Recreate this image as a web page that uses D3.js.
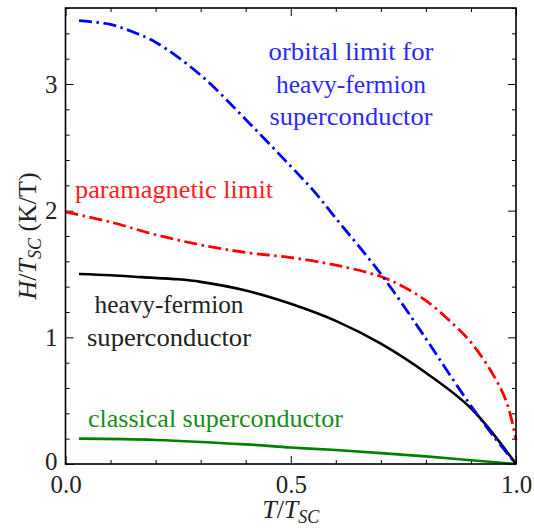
<!DOCTYPE html>
<html><head><meta charset="utf-8">
<script src="https://cdn.jsdelivr.net/npm/d3@7"></script>
<style>
html,body{margin:0;padding:0;background:#fff;}
svg{display:block;}
svg text{font-family:"Liberation Serif","Tinos","DejaVu Serif","Noto Serif",serif;}
</style></head>
<body><svg id="chart" width="534" height="531"></svg>
<script>
// ---- data ----
const orbitalT = [0.03,0.1,0.15,0.2,0.3,0.4,0.5,0.55,0.6,0.7,0.8,0.85,0.9,0.95,1.0];
const orbitalH = [3.50,3.47,3.41,3.33,3.07,2.72,2.35,2.16,1.94,1.50,0.99,0.72,0.46,0.22,0.0];
const paraT = [0.0,0.1,0.2,0.3,0.4,0.5,0.6,0.7,0.75,0.8,0.85,0.9,0.95,0.98,1.0];
const paraH = [1.99,1.91,1.81,1.73,1.67,1.63,1.57,1.48,1.40,1.29,1.14,0.96,0.70,0.48,0.19];
const heavyT = [0.03,0.1,0.17,0.25,0.3,0.4,0.5,0.6,0.7,0.8,0.9,1.0];
const heavyH = [1.50,1.49,1.475,1.458,1.438,1.37,1.265,1.13,0.95,0.72,0.44,0.0];
const classT = [0.03,0.2,0.4,0.5,0.6,0.8,0.9,1.0];
const classH = [0.20,0.19,0.155,0.13,0.11,0.06,0.03,0.0];
const xMajor = [0.0,0.5,1.0];
const xMajorLabels = ["0.0","0.5","1.0"];
const yMajor = [0,1,2,3];
const yMajorLabels = ["0","1","2","3"];

const FONT = '"Liberation Serif","Tinos","DejaVu Serif","Noto Serif",serif';
const svg = d3.select("#chart");
const L = 65.5, R = 516, T = 8, B = 464;
const x = d3.scaleLinear().domain([0,1]).range([L,R]);
const y = d3.scaleLinear().domain([0,3.6]).range([B,T]);

const xMinor = d3.range(0,1.0001,0.1).filter(v=>Math.abs(v*2-Math.round(v*2))>1e-6);
const yMinor = d3.range(0,3.6001,0.2).filter(v=>Math.abs(v-Math.round(v))>1e-6);

function styleAxis(g){
  g.select(".domain").remove();
  g.selectAll(".tick line").attr("stroke","#000").attr("stroke-width",1);
  g.selectAll(".tick text").attr("fill","#222").style("font-size","25px").style("font-family",FONT);
}
// bottom
const gb = svg.append("g").attr("transform",`translate(0,${B})`);
gb.call(d3.axisBottom(x).tickValues(xMajor).tickFormat((d,i)=>xMajorLabels[i]).tickSize(-8).tickPadding(11));
styleAxis(gb);
svg.append("g").attr("transform",`translate(0,${B})`)
  .call(d3.axisBottom(x).tickValues(xMinor).tickFormat("").tickSize(-4)).call(styleAxis);
// top
svg.append("g").attr("transform",`translate(0,${T})`)
  .call(d3.axisTop(x).tickValues(xMajor).tickFormat("").tickSize(-8)).call(styleAxis);
svg.append("g").attr("transform",`translate(0,${T})`)
  .call(d3.axisTop(x).tickValues(xMinor).tickFormat("").tickSize(-4)).call(styleAxis);
// left
const gl = svg.append("g").attr("transform",`translate(${L},0)`);
gl.call(d3.axisLeft(y).tickValues(yMajor).tickFormat((d,i)=>yMajorLabels[i]).tickSize(-8).tickPadding(8));
styleAxis(gl);
gl.selectAll(".tick text").filter(d=>d===0).attr("dy","0.2em");
svg.append("g").attr("transform",`translate(${L},0)`)
  .call(d3.axisLeft(y).tickValues(yMinor).tickFormat("").tickSize(-4)).call(styleAxis);
// right
svg.append("g").attr("transform",`translate(${R},0)`)
  .call(d3.axisRight(y).tickValues(yMajor).tickFormat("").tickSize(-8)).call(styleAxis);
svg.append("g").attr("transform",`translate(${R},0)`)
  .call(d3.axisRight(y).tickValues(yMinor).tickFormat("").tickSize(-4)).call(styleAxis);

// curves
const line = d3.line().x(d=>x(d[0])).y(d=>y(d[1])).curve(d3.curveCatmullRom.alpha(0.5));
function draw(ts,hs,color,w,dash){
  const p = svg.append("path").datum(ts.map((t,i)=>[t,hs[i]]))
    .attr("d",line).attr("fill","none").attr("stroke",color).attr("stroke-width",w)
    .attr("stroke-linejoin","round");
  if(dash) p.attr("stroke-dasharray",dash);
}
draw(classT,classH,"#008000",2.6,null);
draw(heavyT,heavyH,"#000",2.6,null);
draw(paraT,paraH,"#ff0000",2.8,"13,4.5,2.5,4.5");
draw(orbitalT,orbitalH,"#0000ff",2.8,"13,4.5,2.5,4.5");

// frame
svg.append("rect").attr("x",L).attr("y",T).attr("width",R-L).attr("height",B-T)
  .attr("fill","none").attr("stroke","#000").attr("stroke-width",1.6);

// annotation labels
function label(lines,cx,y0,dy,color,anchor,widths){
  lines.forEach((s,i)=>{
    const t = svg.append("text").attr("x",cx).attr("y",y0+i*dy).attr("text-anchor",anchor)
      .attr("fill",color).style("font-size","25px").style("font-family",FONT).text(s);
    if(widths) t.attr("textLength",widths[i]).attr("lengthAdjust","spacingAndGlyphs");
  });
}
label(["orbital limit for","heavy-fermion","superconductor"],351,60,32.5,"#2a2aff","middle",[165,150,163]);
label(["paramagnetic limit"],75,198,0,"#ff2020","start",[198]);
label(["heavy-fermion","superconductor"],169,313,32.5,"#222","middle",[149,164]);
label(["classical superconductor"],88,427,0,"#1a8c1a","start",[255]);

// axis titles
const xt = svg.append("text").attr("x",(L+R)/2).attr("y",518).attr("text-anchor","middle")
  .attr("fill","#222").style("font-size","26px").style("font-family",FONT);
xt.append("tspan").style("font-style","italic").text("T");
xt.append("tspan").text("/");
xt.append("tspan").style("font-style","italic").text("T");
xt.append("tspan").style("font-style","italic").style("font-size","18px").attr("dy",5).text("SC");

const yt = svg.append("text").attr("transform",`translate(36,${(T+B)/2}) rotate(-90)`)
  .attr("text-anchor","middle").attr("fill","#222").style("font-size","26px").style("font-family",FONT);
yt.append("tspan").style("font-style","italic").text("H");
yt.append("tspan").text("/");
yt.append("tspan").style("font-style","italic").text("T");
yt.append("tspan").style("font-style","italic").style("font-size","18px").attr("dy",5).text("SC");
yt.append("tspan").attr("dy",-5).text(" (K/T)");
</script></body></html>
